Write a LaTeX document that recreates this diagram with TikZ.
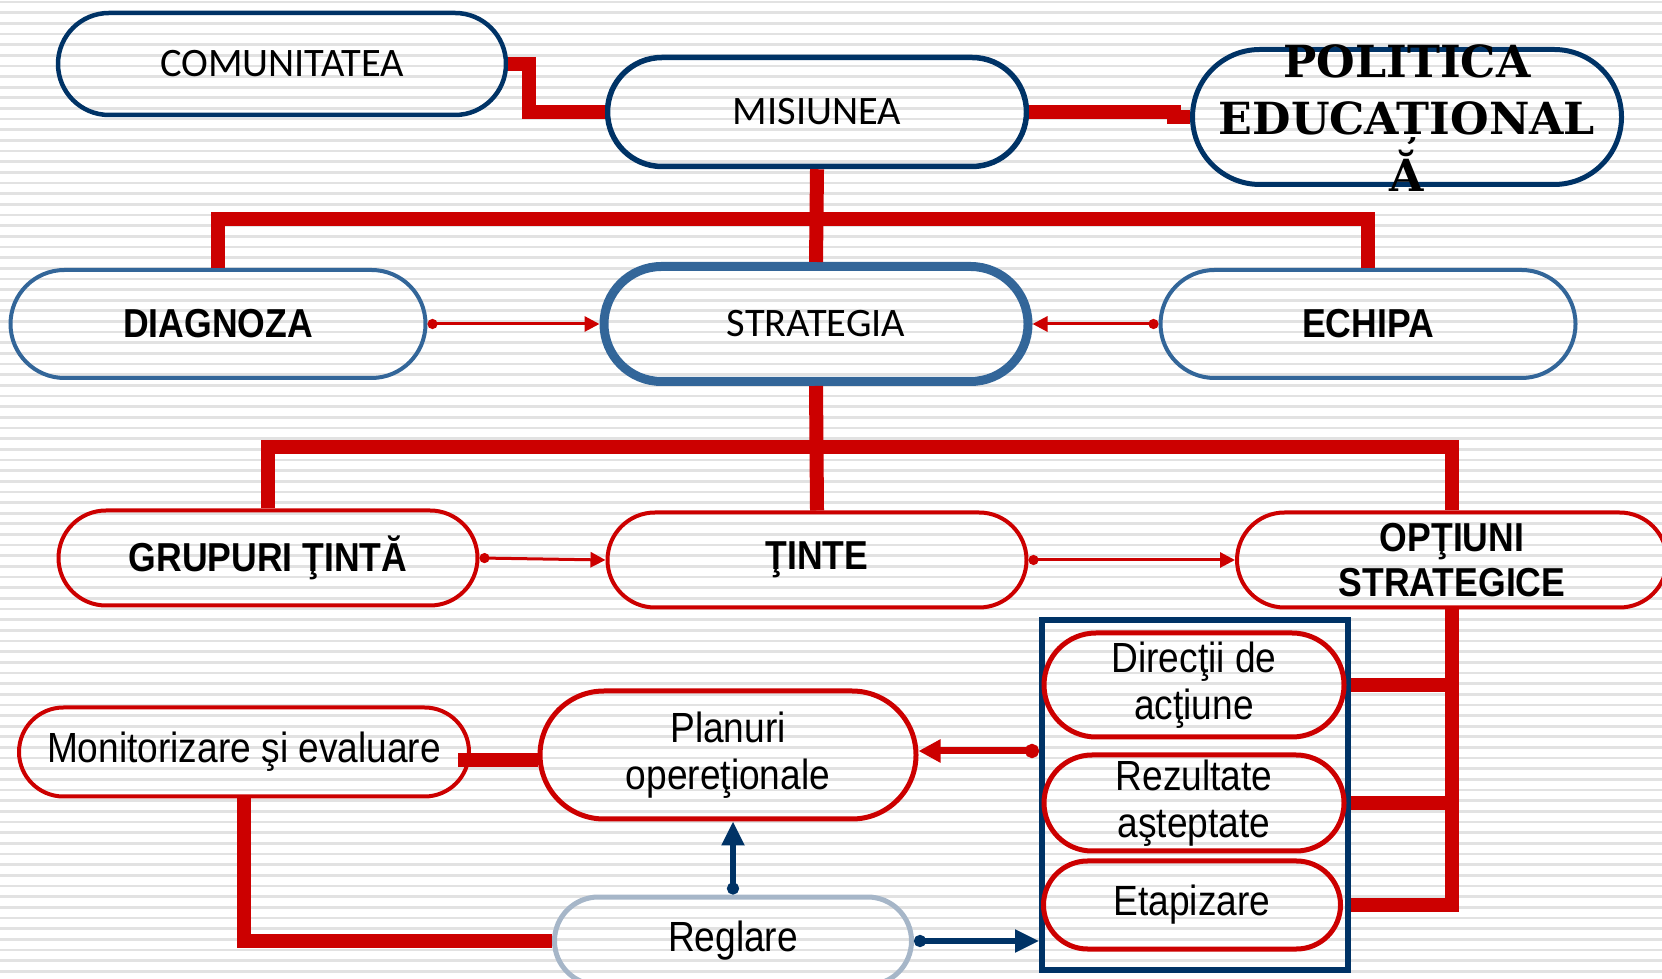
\documentclass[tikz,border=0pt]{standalone}
\usepackage{fontspec}
\newfontfamily\calfont{Carlito}
\newfontfamily\arialfont{Liberation Sans}[FakeStretch=0.88]
\newfontfamily\polfont{DejaVu Serif}
\usetikzlibrary{shapes.misc, arrows.meta, calc}
\definecolor{navy}{HTML}{003366}
\definecolor{steel}{HTML}{336699}
\definecolor{redline}{HTML}{CC0000}
\definecolor{greyblue}{HTML}{A6B6C8}
\definecolor{stripegray}{HTML}{E2E2E2}

\begin{document}
\begin{tikzpicture}[x=0.1mm, y=-0.1mm,
    pill/.style={rounded rectangle, draw, inner sep=0pt},
    navypill/.style={pill, draw=navy, line width=0.45mm},
    steelpill/.style={pill, draw=steel, line width=0.4mm},
    redpill/.style={pill, draw=redline, line width=0.4mm},
    topfont/.style={font=\calfont\fontsize{11.5}{13}\selectfont},
    boldfont/.style={font=\arialfont\bfseries\fontsize{11.5}{12.8}\selectfont, align=center},
    lowfont/.style={font=\arialfont\fontsize{12}{13.2}\selectfont, align=center},
    redbar/.style={draw=redline, line width=1.4mm},
    thinarrow/.style={draw=redline, line width=0.3mm, {Circle[length=1mm]}-{Triangle[length=1.5mm,width=1.5mm]}},
    redarrow/.style={draw=redline, line width=0.7mm, {Circle[length=1.4mm]}-{Triangle[length=2.2mm,width=2.2mm]}},
    bluearrow/.style={draw=navy, line width=0.55mm, {Circle[length=1.2mm]}-{Triangle[length=2.4mm,width=2.2mm]}},
    stripeline/.style={draw=stripegray, line width=0.27mm}]

    \useasboundingbox (0,0) rectangle (1662,979);
    \foreach \i in {0,...,92}
        \draw[stripeline] (0,{2+\i*10.65}) -- (1662,{2+\i*10.65});

    \node[navypill, minimum width=44.8mm, minimum height=10.2mm, topfont] (comunitatea) at (282,64) {COMUNITATEA};
    \node[navypill, line width=0.55mm, minimum width=41.9mm, minimum height=10.9mm, topfont] (misiunea) at (817,112) {MISIUNEA};
    \node[navypill, line width=0.5mm, minimum width=42.9mm, minimum height=13.5mm] (politica) at (1407,117) {};
    \node[font=\polfont\bfseries\fontsize{12.6}{16.2}\selectfont, align=center] (politicatext) at (1407,118) {POLITICA\\EDUCAȚIONAL\\Ă};

    \node[steelpill, minimum width=41.5mm, minimum height=10.8mm, boldfont] (diagnoza) at (218,324) {DIAGNOZA};
    \node[steelpill, line width=0.9mm, minimum width=42.4mm, minimum height=11.5mm, topfont] (strategia) at (816,324) {STRATEGIA};
    \node[steelpill, minimum width=41.5mm, minimum height=10.8mm, boldfont] (echipa) at (1368,324) {ECHIPA};

    \node[redpill, minimum width=41.9mm, minimum height=9.5mm, boldfont] (grupuri) at (268,558) {GRUPURI ŢINTĂ};
    \node[redpill, minimum width=41.9mm, minimum height=9.5mm, boldfont] (tinte) at (817,560) {ŢINTE};
    \node[redpill, minimum width=43mm, minimum height=9.5mm, boldfont] (optiuni) at (1452,560) {OPŢIUNI\\STRATEGICE};

    \node[draw=navy, line width=0.6mm, minimum width=30.6mm, minimum height=35mm, inner sep=0pt] (etape) at (1195,795) {};
    \node[redpill, line width=0.5mm, minimum width=30mm, minimum height=10.4mm, lowfont] (directii) at (1194,685) {Direcţii de\\acţiune};
    \node[redpill, line width=0.5mm, minimum width=30mm, minimum height=9.6mm, lowfont] (rezultate) at (1194,803) {Rezultate\\aşteptate};
    \node[redpill, line width=0.5mm, minimum width=29.7mm, minimum height=8.8mm, lowfont] (etapizare) at (1192,905) {Etapizare};

    \node[redpill, line width=0.5mm, minimum width=37.6mm, minimum height=12.8mm, lowfont] (planuri) at (728,755) {Planuri\\opereţionale};
    \node[redpill, minimum width=45mm, minimum height=8.9mm, lowfont] (monitorizare) at (244,752) {Monitorizare şi evaluare};
    \node[pill, draw=greyblue, line width=0.5mm, minimum width=35.7mm, minimum height=8.8mm, lowfont] (reglare) at (733,941) {Reglare};

    \draw[redbar] (comunitatea.east) -- ++(21,0) |- (misiunea.west);
    \draw[redbar] (misiunea.east) -- ++(145,0) |- (politica.west);
    \coordinate (bar1) at (816,219);
    \draw[redbar] (misiunea.south) -- (strategia.north);
    \draw[redbar] (diagnoza.north) |- (bar1) -| (echipa.north);
    \draw[thinarrow] (diagnoza.east) -- (strategia.west);
    \draw[thinarrow] (echipa.west) -- (strategia.east);

    \coordinate (bar2) at (816,447);
    \draw[redbar] (strategia.south) -- (tinte.north);
    \draw[redbar] (grupuri.north) |- (bar2) -| (optiuni.north);
    \draw[thinarrow] (grupuri.east) -- (tinte.west);
    \draw[thinarrow] (tinte.east) -- (optiuni.west);

    \draw[redbar] (optiuni.south) |- (etape.east |- etapizare.east);
    \draw[redbar] (optiuni.south |- directii.east) -- (etape.east |- directii.east);
    \draw[redbar] (optiuni.south |- rezultate.east) -- (etape.east |- rezultate.east);

    \draw[redarrow] ([yshift=0.4mm]planuri.east -| etape.west) -- ([yshift=0.4mm]planuri.east);
    \draw[redbar] ([xshift=-1.3mm,yshift=-0.8mm]monitorizare.east) -- ([yshift=-0.5mm]planuri.west);
    \draw[redbar] (monitorizare.south) |- (reglare.west);
    \draw[bluearrow] (reglare.north) -- (reglare.north |- planuri.south);
    \draw[bluearrow] (reglare.east) -- (reglare.east -| etape.west);
\end{tikzpicture}
\end{document}
